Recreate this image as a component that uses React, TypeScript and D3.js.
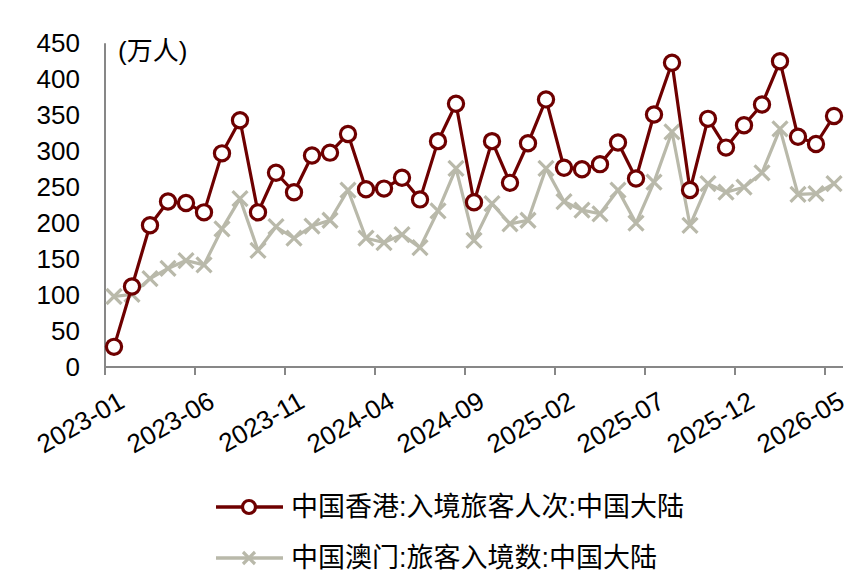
import React from 'react';
import * as d3 from 'd3';

// monthly categories
const months = [
  '2023-01', '2023-02', '2023-03', '2023-04', '2023-05', '2023-06', '2023-07', '2023-08', '2023-09', '2023-10', '2023-11', '2023-12',
  '2024-01', '2024-02', '2024-03', '2024-04', '2024-05', '2024-06', '2024-07', '2024-08', '2024-09', '2024-10', '2024-11', '2024-12',
  '2025-01', '2025-02', '2025-03', '2025-04', '2025-05', '2025-06', '2025-07', '2025-08', '2025-09', '2025-10', '2025-11', '2025-12',
  '2026-01', '2026-02', '2026-03', '2026-04', '2026-05',
];

// 中国香港:入境旅客人次:中国大陆 (万人)
const hongKong = [
  28, 112, 197, 230, 228, 215, 297, 343, 215, 270, 243, 294,
  298, 324, 247, 248, 263, 233, 314, 366, 229, 314, 256, 311,
  372, 277, 275, 282, 312, 262, 351, 423, 246, 345, 305, 336,
  365, 425, 320, 310, 349,
];

// 中国澳门:旅客入境数:中国大陆 (万人)
const macau = [
  98, 101, 123, 137, 148, 142, 192, 234, 162, 195, 179, 196,
  204, 246, 179, 173, 184, 166, 217, 276, 176, 227, 199, 204,
  276, 230, 218, 213, 246, 200, 257, 327, 197, 255, 243, 250,
  270, 331, 240, 241, 255,
];

const xTickLabels = ['2023-01', '2023-06', '2023-11', '2024-04', '2024-09', '2025-02', '2025-07', '2025-12', '2026-05'];
const yTicks = [0, 50, 100, 150, 200, 250, 300, 350, 400, 450];

const seriesNames = ['中国香港:入境旅客人次:中国大陆', '中国澳门:旅客入境数:中国大陆'];
const unitLabel = '(万人)';

const RED = '#6e0000';
const GRAY = '#b9b9aa';
const AXIS = '#878787';
const FONT = '"Liberation Sans", Arial, "Noto Sans CJK SC", sans-serif';

const App = () => {
  const width = 863, height = 586;
  const left = 105, right = 843, top = 43.3, bottom = 367;

  const x = d3.scaleBand<string>().domain(months).range([left, right]).padding(0);
  const y = d3.scaleLinear().domain([0, 450]).range([bottom, top]);
  const cx = (i: number) => (x(months[i]) as number) + x.bandwidth() / 2;

  const line = d3.line<number>().x((_, i) => cx(i)).y((d) => y(d));

  const cross = (px: number, py: number, s: number, key: any) => (
    <path key={key} d={`M${px - s},${py - s}L${px + s},${py + s}M${px - s},${py + s}L${px + s},${py - s}`}
      stroke={GRAY} strokeWidth={3.2} fill="none" />
  );

  return (
    <svg width={width} height={height} style={{ position: 'absolute', left: 0, top: 0, background: '#fff' }}
      fontFamily={FONT}>
      {/* y labels */}
      {yTicks.map((t) => (
        <text key={t} x={80} y={y(t)} textAnchor="end" dominantBaseline="central" fontSize={26} fill="#000">{t}</text>
      ))}
      <text x={118} y={60} fontSize={26} fill="#000">{unitLabel}</text>

      {/* axes */}
      <line x1={left} x2={left} y1={top} y2={bottom} stroke={AXIS} strokeWidth={2} />
      <line x1={left} x2={right} y1={bottom} y2={bottom} stroke={AXIS} strokeWidth={2} />
      {xTickLabels.map((lab) => {
        const tx = x(lab) as number;
        return (
          <g key={lab}>
            <line x1={tx} x2={tx} y1={bottom} y2={bottom + 8} stroke={AXIS} strokeWidth={2} />
            <text transform={`translate(${tx + 12},${390}) rotate(-30)`} dy="0.72em" textAnchor="end"
              fontSize={26} fill="#000">{lab}</text>
          </g>
        );
      })}

      {/* macau series */}
      <path d={line(macau) || ''} fill="none" stroke={GRAY} strokeWidth={3.2} strokeLinejoin="round" />
      {macau.map((v, i) => cross(cx(i), y(v), 7.5, i))}

      {/* hong kong series */}
      <path d={line(hongKong) || ''} fill="none" stroke={RED} strokeWidth={3.2} strokeLinejoin="round" />
      {hongKong.map((v, i) => (
        <circle key={i} cx={cx(i)} cy={y(v)} r={7.6} fill="#fff" stroke={RED} strokeWidth={3.2} />
      ))}

      {/* legend */}
      <g>
        <line x1={216} x2={283} y1={507} y2={507} stroke={RED} strokeWidth={3.5} />
        <circle cx={249} cy={507} r={6.5} fill="#fff" stroke={RED} strokeWidth={3.2} />
        <text x={291} y={507} dominantBaseline="central" fontSize={27} fill="#000">{seriesNames[0]}</text>
        <line x1={216} x2={283} y1={558} y2={558} stroke={GRAY} strokeWidth={3.5} />
        {cross(249, 558, 6, 'lg')}
        <text x={291} y={558} dominantBaseline="central" fontSize={27} fill="#000">{seriesNames[1]}</text>
      </g>
    </svg>
  );
};

export default App;
